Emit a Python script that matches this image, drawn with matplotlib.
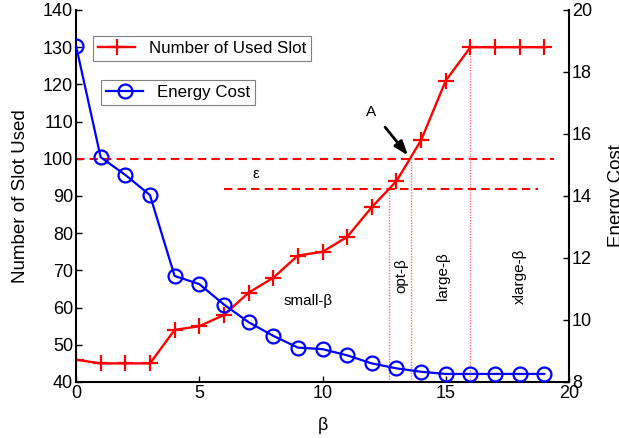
import matplotlib
matplotlib.use("Agg")
import matplotlib.pyplot as plt

plt.rcParams['font.family'] = ['Liberation Sans', 'DejaVu Sans']

beta = list(range(20))
slots_used = [46, 45, 45, 45, 54, 55, 58, 64, 68, 74, 75, 79, 87, 94, 105, 121, 130, 130, 130, 130]
energy_cost = [18.85, 15.25, 14.68, 14.03, 11.42, 11.16, 10.5, 9.93, 9.49, 9.11, 9.06, 8.86,
               8.6, 8.44, 8.33, 8.26, 8.26, 8.26, 8.26, 8.26]

slot_ticks = [40, 50, 60, 70, 80, 90, 100, 110, 120, 130, 140]
energy_ticks = [8, 10, 12, 14, 16, 18, 20]
beta_ticks = [0, 5, 10, 15, 20]

upper_limit = 100
upper_span = (0, 19.4)
eps_limit = 92
eps_span = (6, 18.75)
region_bounds = [12.7, 13.6, 16.0]
region_tops = [92, 100, 130]

W, H = 619, 438
fig = plt.figure(figsize=(W / 100, H / 100), dpi=100)
L, R, T, B = 76, 569, 10, 382
ax1 = fig.add_axes([L / W, 1 - B / H, (R - L) / W, (B - T) / H])
ax2 = ax1.twinx()

# reference lines
ax1.plot(upper_span, [upper_limit] * 2, color='red', ls=(0, (4, 2.5)), lw=1.5)
ax1.plot(eps_span, [eps_limit] * 2, color='red', ls=(0, (4, 2.5)), lw=1.5)
for xb, yt in zip(region_bounds, region_tops):
    ax1.plot([xb, xb], [40, yt], color='#ff7070', ls=(0, (1, 1)), lw=1)

l1, = ax1.plot(beta, slots_used, color='red', marker='+', ms=11, mew=1.6, lw=1.7,
               label='Number of Used Slot')
l2, = ax2.plot(beta, energy_cost, color='blue', marker='o', ms=10, mfc='none', mew=1.6, lw=1.6,
               label='Energy Cost')

ax1.set_xlim(0, 20)
ax1.set_ylim(40, 140)
ax2.set_ylim(8, 20)
ax1.set_xticks(beta_ticks)
ax1.set_yticks(slot_ticks)
ax2.set_yticks(energy_ticks)

for ax in (ax1, ax2):
    ax.tick_params(direction='in', length=4, width=1, labelsize=13, pad=2)
    ax.spines['top'].set_visible(False)
    for s in ax.spines.values():
        s.set_linewidth(1.5)
ax1.spines['right'].set_visible(False)
ax2.spines['left'].set_visible(False)
ax2.spines['bottom'].set_visible(False)

ax1.set_xlabel('β', fontsize=13, labelpad=11)
ax1.set_ylabel('Number of Slot Used', fontsize=13.5, labelpad=10)
ax2.set_ylabel('Energy Cost', fontsize=13.5, labelpad=11.5)

leg1 = ax2.legend(handles=[l1], loc='upper left', bbox_to_anchor=(0.0345, 0.93), borderaxespad=0,
                  fontsize=12.2, fancybox=False, edgecolor='#808080', framealpha=1,
                  handlelength=2.2, borderpad=0.3)
leg1.get_frame().set_linewidth(0.8)
ax2.add_artist(leg1)
leg2 = ax2.legend(handles=[l2], loc='upper left', bbox_to_anchor=(0.0507, 0.812), borderaxespad=0,
                  fontsize=12.2, fancybox=False, edgecolor='#808080', framealpha=1,
                  handlelength=2.2, borderpad=0.3)
leg2.get_frame().set_linewidth(0.8)

ax1.text(7.3, 96, 'ε', fontsize=11, ha='center', va='center')
ax1.text(9.41, 61.9, 'small-β', fontsize=11, ha='center', va='center')
ax1.text(13.21, 68.5, 'opt-β', fontsize=11, ha='center', va='center', rotation=90)
ax1.text(14.89, 68.5, 'large-β', fontsize=11, ha='center', va='center', rotation=90)
ax1.text(18.01, 68.5, 'xlarge-β', fontsize=11, ha='center', va='center', rotation=90)
ax1.text(11.95, 112.6, 'A', fontsize=11, ha='center', va='center')
ax1.annotate('', xy=(13.47, 100.9), xytext=(12.54, 108.5),
             arrowprops=dict(arrowstyle='-|>,head_length=0.7,head_width=0.25', color='black',
                             lw=2, mutation_scale=12, shrinkA=0, shrinkB=0))

fig.savefig('out.png', dpi=100)
